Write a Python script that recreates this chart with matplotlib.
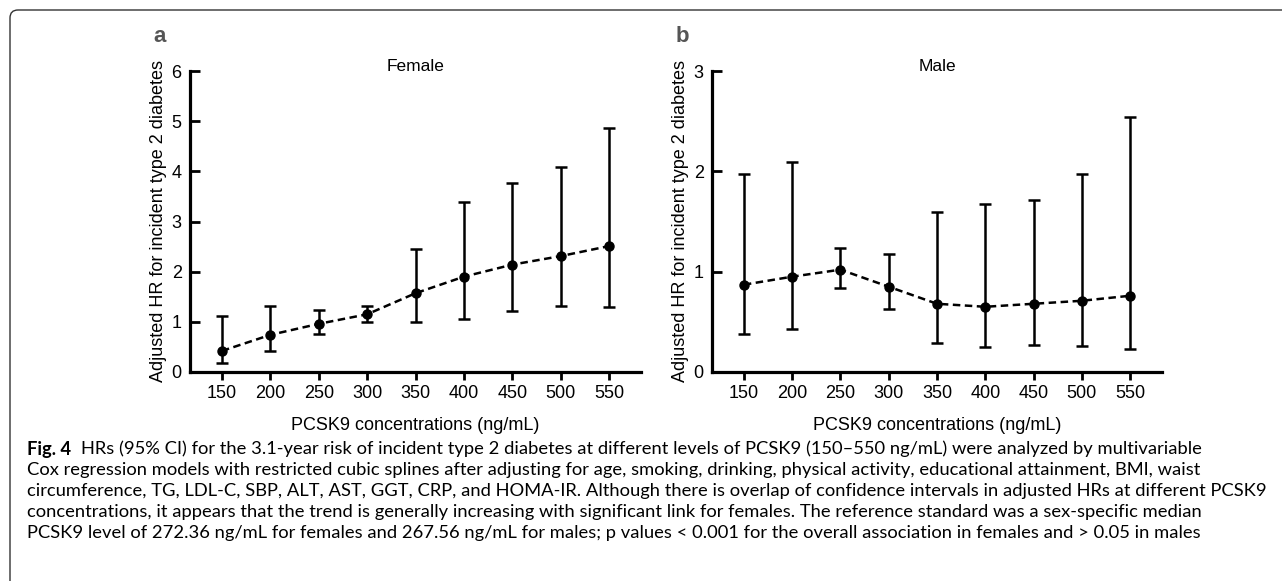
import matplotlib
matplotlib.use("Agg")
import matplotlib.pyplot as plt
from matplotlib.path import Path
from matplotlib.patches import PathPatch

plt.rcParams["font.family"] = ["Liberation Sans", "DejaVu Sans"]

# data
pcsk9 = [150, 200, 250, 300, 350, 400, 450, 500, 550]

female_hr = [0.42, 0.74, 0.96, 1.15, 1.57, 1.90, 2.14, 2.31, 2.51]
female_lo = [0.17, 0.42, 0.75, 0.99, 0.99, 1.06, 1.21, 1.31, 1.30]
female_hi = [1.11, 1.32, 1.23, 1.32, 2.46, 3.39, 3.77, 4.09, 4.87]

male_hr = [0.87, 0.95, 1.02, 0.85, 0.68, 0.65, 0.68, 0.71, 0.76]
male_lo = [0.38, 0.43, 0.84, 0.63, 0.29, 0.25, 0.27, 0.26, 0.23]
male_hi = [1.97, 2.09, 1.24, 1.18, 1.59, 1.67, 1.71, 1.97, 2.54]

panels = [
    ("a", "Female", female_hr, female_lo, female_hi, [0, 1, 2, 3, 4, 5, 6]),
    ("b", "Male", male_hr, male_lo, male_hi, [0, 1, 2, 3]),
]

caption = [
    "Cox regression models with restricted cubic splines after adjusting for age, smoking, drinking, physical activity, educational attainment, BMI, waist",
    "circumference, TG, LDL-C, SBP, ALT, AST, GGT, CRP, and HOMA-IR. Although there is overlap of confidence intervals in adjusted HRs at different PCSK9",
    "concentrations, it appears that the trend is generally increasing with significant link for females. The reference standard was a sex-specific median",
    "PCSK9 level of 272.36 ng/mL for females and 267.56 ng/mL for males; p values < 0.001 for the overall association in females and > 0.05 in males",
]
caption_first = ("HRs (95% CI) for the 3.1-year risk of incident type 2 diabetes at different levels of "
                 "PCSK9 (150\u2013550 ng/mL) were analyzed by multivariable")

W, H = 1282, 581
fig = plt.figure(figsize=(W / 100, H / 100), dpi=100)


def px(x0, y0, x1, y1):
    # pixel box (top-left origin) -> figure fraction rect
    return [x0 / W, 1 - y1 / H, (x1 - x0) / W, (y1 - y0) / H]


boxes = [(190, 71, 641, 372), (712, 71, 1162, 372)]

for (letter, title, hr, lo, hi, yt), box in zip(panels, boxes):
    ax = fig.add_axes(px(*box))
    yerr = [[h - l for h, l in zip(hr, lo)], [u - h for h, u in zip(hr, hi)]]
    ax.errorbar(pcsk9, hr, yerr=yerr, fmt="none", ecolor="black",
                elinewidth=1.8, capsize=4, capthick=1.8)
    ax.plot(pcsk9, hr, color="black", lw=1.8, ls=(0, (3, 1.8)),
            marker="o", ms=6.5)
    ax.set_xlim(117, 583)
    ax.set_ylim(0, yt[-1])
    ax.set_xticks(pcsk9)
    ax.set_yticks(yt)
    for s in ("top", "right"):
        ax.spines[s].set_visible(False)
    for s in ("left", "bottom"):
        ax.spines[s].set_linewidth(2.3)
    ax.tick_params(axis="x", direction="out", length=6, width=2, labelsize=13, pad=3)
    ax.tick_params(axis="y", direction="in", length=7, width=2, labelsize=13, pad=6)
    ax.set_ylabel("Adjusted HR for incident type 2 diabetes", fontsize=13, labelpad=3)
    ax.set_xlabel("PCSK9 concentrations (ng/mL)", fontsize=13, labelpad=11)
    ax.text(0.5, 1.0, title, transform=ax.transAxes, ha="center", va="baseline",
            fontsize=12.5)
    fig.text((box[0] - 30) / W, 1 - 37 / H, letter, fontsize=16, fontweight="bold",
             color="#555555", ha="center", va="center")

# caption
cap_font = ["Lato", "DejaVu Sans"]
y0, dy = 449, 21
fig.text(27 / W, 1 - y0 / H, "Fig. 4", fontsize=13.2, fontweight="bold",
         family=cap_font, va="center", ha="left")
fig.text(81 / W, 1 - y0 / H, caption_first, fontsize=13.2, family=cap_font,
         va="center", ha="left")
for i, line in enumerate(caption):
    fig.text(27 / W, 1 - (y0 + dy * (i + 1)) / H, line, fontsize=13.2,
             family=cap_font, va="center", ha="left")

# rounded frame: top and left edges only
r = 8
verts = [(10 / W, 0), (10 / W, 1 - (10 + r) / H), (10 / W, 1 - 10 / H),
         ((10 + r) / W, 1 - 10 / H), (1, 1 - 10 / H)]
codes = [Path.MOVETO, Path.LINETO, Path.CURVE3, Path.CURVE3, Path.LINETO]
fig.patches.append(PathPatch(Path(verts, codes), transform=fig.transFigure,
                             fill=False, edgecolor="#333333", lw=1.0))

fig.savefig("out.png", dpi=100)
